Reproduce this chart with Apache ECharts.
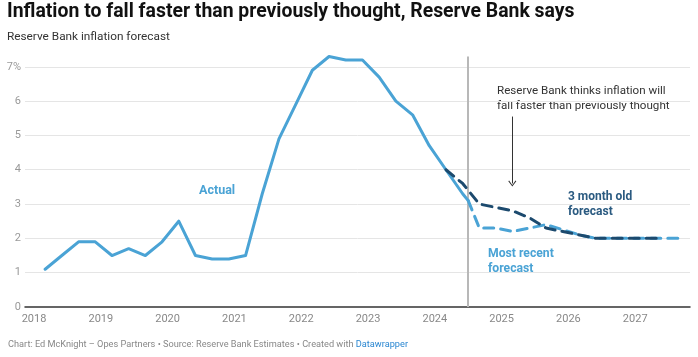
<!DOCTYPE html>
<html>
<head>
<meta charset="utf-8">
<script src="https://cdn.jsdelivr.net/npm/echarts@6/dist/echarts.min.js"></script>
<style>
html,body{margin:0;padding:0;background:#fff;}
#chart{width:698px;height:357px;}
</style>
</head>
<body>
<div id="chart"></div>
<script>
// ---- data (dates as "YYYY-MM") ----
const actualDates = ["2018-03","2018-06","2018-09","2018-12","2019-03","2019-06","2019-09","2019-12",
  "2020-03","2020-06","2020-09","2020-12","2021-03","2021-06","2021-09","2021-12",
  "2022-03","2022-06","2022-09","2022-12","2023-03","2023-06","2023-09","2023-12",
  "2024-03","2024-06","2024-07"];
const actualValues = [1.1,1.5,1.9,1.9,1.5,1.7,1.5,1.9,
  2.5,1.5,1.4,1.4,1.5,3.3,4.9,5.9,
  6.9,7.3,7.2,7.2,6.7,6.0,5.6,4.7,
  4.0,3.3,3.1];
const recentDates = ["2024-07","2024-09","2024-12","2025-03","2025-06","2025-09","2025-12",
  "2026-03","2026-06","2026-09","2026-12","2027-03","2027-06","2027-09"];
const recentValues = [3.1,2.3,2.3,2.2,2.3,2.4,2.25,2.1,2.0,2.0,2.0,2.0,2.0,2.0];
const oldDates = ["2024-03","2024-06","2024-09","2024-12","2025-03","2025-06","2025-09","2025-12",
  "2026-03","2026-06","2026-09","2026-12","2027-03","2027-06"];
const oldValues = [4.0,3.6,3.0,2.9,2.8,2.6,2.3,2.2,2.1,2.0,2.0,2.0,2.0,2.0];
const yearTicks = [2018,2019,2020,2021,2022,2023,2024,2025,2026,2027];
const yTicks = [0,1,2,3,4,5,6,7];
const cutoffDate = "2024-07";

function toYear(s){ const p=s.split('-'); return (+p[0]) + ((+p[1])-1)/12; }
function pairs(d,v){ return d.map((x,i)=>[toYear(x), v[i]]); }

const LIGHT = '#4aa3d5';
const DARK = '#1c4a6e';
const FONT = 'Roboto';

const chart = echarts.init(document.getElementById('chart'));
chart.setOption({
  animation:false,
  textStyle:{fontFamily:FONT},
  title:{
    text:'Inflation to fall faster than previously thought, Reserve Bank says',
    subtext:'Reserve Bank inflation forecast',
    left:7, top:0, padding:0, itemGap:6,
    textStyle:{fontFamily:FONT,fontSize:19.4,fontWeight:'bold',color:'#111',lineHeight:24},
    subtextStyle:{fontFamily:FONT,fontSize:11.8,color:'#333',lineHeight:15}
  },
  grid:{left:25,right:8,top:56.5,bottom:50,containLabel:false},
  xAxis:{
    type:'value', min:2017.865, max:2027.82,
    axisLine:{show:true,onZero:false,lineStyle:{color:'#333',width:1.5}},
    axisTick:{show:false},
    splitLine:{show:false},
    axisLabel:{customValues:yearTicks,color:'#888',fontSize:11,margin:7,fontFamily:FONT,
      formatter:v=>String(Math.round(v))}
  },
  yAxis:{
    type:'value', min:0, max:7.3, interval:1,
    axisLine:{show:false}, axisTick:{show:false},
    splitLine:{show:true,showMinLine:false,showMaxLine:false,lineStyle:{color:'#e5e5e5',width:1}},
    axisLabel:{customValues:yTicks,color:'#999',fontSize:11,margin:4,fontFamily:FONT,
      formatter:v=> v===7 ? '7%' : String(v)}
  },
  series:[
    {
      name:'Actual', type:'line', data:pairs(actualDates,actualValues), showSymbol:false,
      lineStyle:{color:LIGHT,width:3,join:'round',cap:'round'}, z:3,
      markLine:{
        silent:true, symbol:'none', z:1,
        lineStyle:{color:'#b8b8b8',width:2,type:'solid'},
        label:{show:false},
        data:[{xAxis:toYear(cutoffDate)}]
      }
    },
    {
      name:'Most recent forecast', type:'line', data:pairs(recentDates,recentValues), showSymbol:false,
      lineStyle:{color:LIGHT,width:3,type:[10,7],cap:'round',join:'round'}, z:3
    },
    {
      name:'3 month old forecast', type:'line', data:pairs(oldDates,oldValues), showSymbol:false,
      lineStyle:{color:DARK,width:3,type:[10,7],cap:'round',join:'round'}, z:4,
      markLine:{
        silent:true, z:5,
        symbol:['none','path://M0,7 L5,0 L10,7 L9,8 L5,2 L1,8 Z'], symbolSize:[8,6],
        lineStyle:{color:'#333',width:1,type:'solid'},
        label:{show:false},
        data:[[{coord:[2025.16,5.55]},{coord:[2025.16,3.6]}]]
      }
    }
  ],
  graphic:[
    {type:'text',left:199,top:184,style:{text:'Actual',fill:LIGHT,font:'bold 12.5px Roboto'}},
    {type:'text',left:497,top:84,style:{text:'Reserve Bank thinks inflation will\nfall faster than previously thought',fill:'#333',font:'11.6px Roboto',lineHeight:14.5}},
    {type:'text',left:568,top:189,style:{text:'3 month old\nforecast',fill:'#2a5a80',font:'bold 12px Roboto',lineHeight:15.5}},
    {type:'text',left:488,top:246,style:{text:'Most recent\nforecast',fill:LIGHT,font:'bold 12.2px Roboto',lineHeight:15.5}},
    {type:'text',left:8,top:340,style:{
      text:'{g|Chart: Ed McKnight – Opes Partners • Source: Reserve Bank Estimates • Created with }{b|Datawrapper}',
      rich:{g:{fill:'#888',font:'9.2px Roboto'},b:{fill:'#2b87d1',font:'9.2px Roboto'}}
    }}
  ]
});
</script>
</body>
</html>
